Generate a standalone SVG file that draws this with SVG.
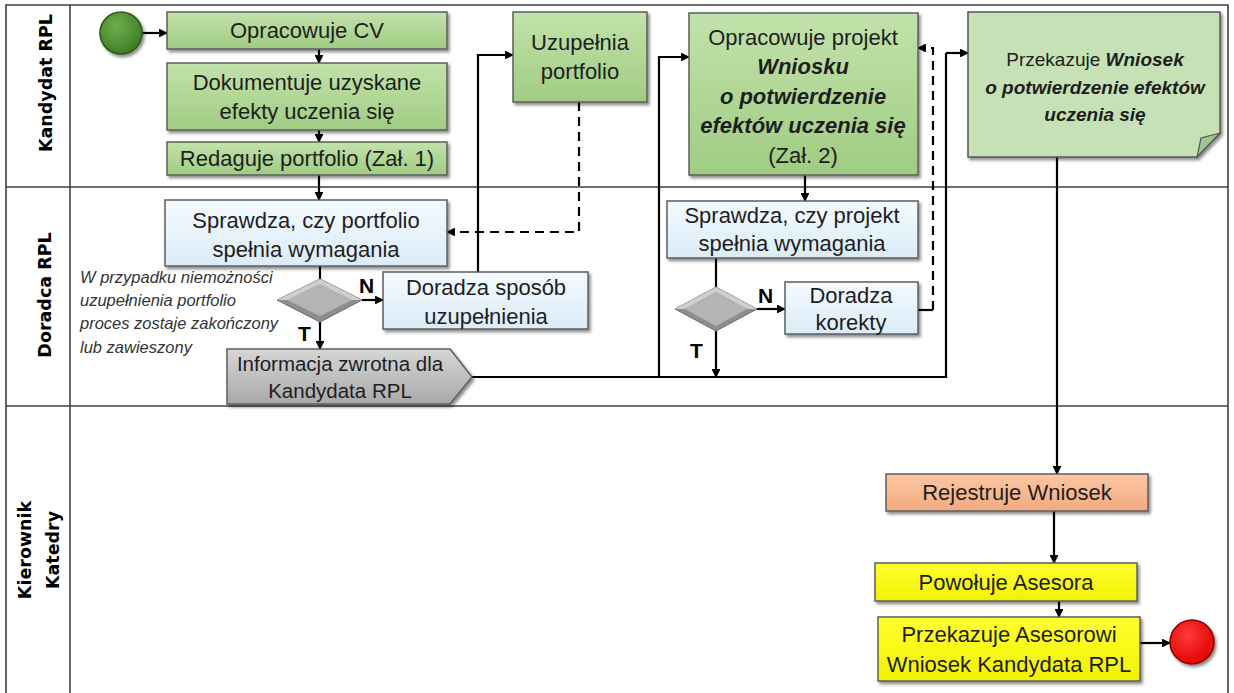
<svg xmlns="http://www.w3.org/2000/svg" width="1234" height="693" viewBox="0 0 1234 693">
<style>
  .lane { fill: none; stroke: #404040; stroke-width: 1.6; }
  .lbl { font-family: "DejaVu Sans", sans-serif; font-weight: bold; font-size: 17.5px; fill: #000; text-anchor: middle; }
  .t { font-family: "Liberation Sans", Arial, sans-serif; font-size: 22px; fill: #1e1e1e; text-anchor: middle; }
  .bi { font-weight: bold; font-style: italic; }
  .note { font-family: "Liberation Sans", Arial, sans-serif; font-size: 16.5px; font-style: italic; fill: #333; }
  .yn { font-family: "Liberation Sans", Arial, sans-serif; font-size: 21px; font-weight: bold; fill: #000; }
  .box { stroke: #5e5e5e; stroke-width: 1.5; filter: url(#sh); }
  .c { fill: none; stroke: #000; stroke-width: 2.2; }
  .ca { fill: none; stroke: #000; stroke-width: 2.2; marker-end: url(#ah); }
  .d { fill: none; stroke: #000; stroke-width: 2.2; stroke-dasharray: 9 6; }
  .da { fill: none; stroke: #000; stroke-width: 2.2; stroke-dasharray: 9 6; marker-end: url(#ah); }
</style>
<defs>
  <filter id="sh" x="-10%" y="-10%" width="130%" height="140%">
    <feDropShadow dx="2" dy="2.5" stdDeviation="1.5" flood-color="#000" flood-opacity="0.45"/>
  </filter>
  <linearGradient id="gGreen" x1="0" y1="0" x2="0" y2="1">
    <stop offset="0" stop-color="#c2e2ab"/>
    <stop offset="1" stop-color="#a0cc82"/>
  </linearGradient>
  <linearGradient id="gBlue" x1="0" y1="0" x2="0" y2="1">
    <stop offset="0" stop-color="#f4faff"/>
    <stop offset="1" stop-color="#dbecf8"/>
  </linearGradient>
  <linearGradient id="gGray" x1="0" y1="0" x2="0" y2="1">
    <stop offset="0" stop-color="#d6d6d6"/>
    <stop offset="1" stop-color="#a9a9a9"/>
  </linearGradient>
  <linearGradient id="gOrange" x1="0" y1="0" x2="0" y2="1">
    <stop offset="0" stop-color="#fcc8a4"/>
    <stop offset="1" stop-color="#f2aa7e"/>
  </linearGradient>
  <linearGradient id="gYellow" x1="0" y1="0" x2="0" y2="1">
    <stop offset="0" stop-color="#ffff30"/>
    <stop offset="1" stop-color="#f2f200"/>
  </linearGradient>
  <radialGradient id="gStart" cx="0.4" cy="0.35" r="0.7">
    <stop offset="0" stop-color="#6fae4c"/>
    <stop offset="1" stop-color="#3d7a25"/>
  </radialGradient>
  <radialGradient id="gEnd" cx="0.4" cy="0.35" r="0.7">
    <stop offset="0" stop-color="#ff3a3a"/>
    <stop offset="1" stop-color="#e00000"/>
  </radialGradient>
  <marker id="ah" viewBox="0 0 10 10" refX="9" refY="5" markerWidth="4" markerHeight="4" orient="auto" markerUnits="strokeWidth">
    <path d="M0,0 L10,5 L0,10 Z" fill="#000"/>
  </marker>
</defs>

<g id="lanes">
  <path class="lane" d="M6,693 V5 H1228 V693"/>
  <line class="lane" x1="70" y1="5" x2="70" y2="693"/>
  <line class="lane" x1="6" y1="187" x2="1228" y2="187"/>
  <line class="lane" x1="6" y1="406" x2="1228" y2="406"/>
  <text class="lbl" transform="translate(46,83) rotate(-90)" y="6">Kandydat RPL</text>
  <text class="lbl" transform="translate(45,295) rotate(-90)" y="6">Doradca RPL</text>
  <text class="lbl" transform="translate(25,550) rotate(-90)" y="6">Kierownik</text>
  <text class="lbl" transform="translate(53,550) rotate(-90)" y="6">Katedry</text>
</g>

<g id="connectors">
  <line class="ca" x1="142" y1="33" x2="167" y2="33"/>
  <line class="ca" x1="319" y1="49" x2="319" y2="63"/>
  <line class="ca" x1="319" y1="130" x2="319" y2="142"/>
  <line class="ca" x1="319" y1="175" x2="319" y2="200"/>
  <line class="c" x1="320" y1="266" x2="320" y2="279"/>
  <line class="ca" x1="362" y1="300" x2="383" y2="300"/>
  <line class="ca" x1="320" y1="322" x2="320" y2="349"/>
  <path class="ca" d="M478,272 V55 H513"/>
  <path class="da" d="M579,102 V232 H447"/>
  <path class="c" d="M472,377 H946 V53"/>
  <path class="ca" d="M659,377 V57 H689"/>
  <path class="ca" d="M946,53 H968"/>
  <line class="ca" x1="805" y1="175" x2="805" y2="201"/>
  <line class="c" x1="716" y1="258" x2="716" y2="287"/>
  <line class="ca" x1="757" y1="309" x2="785" y2="309"/>
  <line class="ca" x1="716" y1="331" x2="716" y2="377"/>
  <path class="c" d="M918,310 H933"/>
  <path class="da" d="M933,310 V48 H918"/>
  <line class="ca" x1="1057" y1="157" x2="1057" y2="474"/>
  <line class="ca" x1="1054" y1="511" x2="1054" y2="563"/>
  <line class="ca" x1="1059" y1="601" x2="1059" y2="617"/>
  <line class="ca" x1="1140" y1="643" x2="1170" y2="643"/>
  <text class="yn" x="359" y="293">N</text>
  <text class="yn" x="298" y="341">T</text>
  <text class="yn" x="758" y="303">N</text>
  <text class="yn" x="690" y="358">T</text>
</g>

<g id="start">
  <circle cx="121" cy="33" r="21" fill="url(#gStart)" stroke="#2b5a17" stroke-width="1.5" filter="url(#sh)"/>
</g>

<g id="n-cv">
  <rect class="box" x="167" y="12" width="280" height="37" fill="url(#gGreen)"/>
  <text class="t" x="307" y="38">Opracowuje CV</text>
</g>

<g id="n-dok">
  <rect class="box" x="167" y="63" width="280" height="67" fill="url(#gGreen)"/>
  <text class="t" x="307" y="90">Dokumentuje  uzyskane</text>
  <text class="t" x="307" y="119">efekty uczenia się</text>
</g>

<g id="n-red">
  <rect class="box" x="167" y="142" width="280" height="33" fill="url(#gGreen)"/>
  <text class="t" x="307" y="166">Redaguje portfolio (Zał. 1)</text>
</g>

<g id="n-uzu">
  <rect class="box" x="513" y="12" width="134" height="90" fill="url(#gGreen)"/>
  <text class="t" x="580" y="50">Uzupełnia</text>
  <text class="t" x="580" y="79">portfolio</text>
</g>

<g id="n-proj">
  <rect class="box" x="689" y="13" width="229" height="162" fill="url(#gGreen)"/>
  <text class="t" x="803" y="45">Opracowuje projekt</text>
  <text class="t bi" x="803" y="74">Wniosku</text>
  <text class="t bi" x="803" y="104">o potwierdzenie</text>
  <text class="t bi" x="803" y="133">efektów uczenia się</text>
  <text class="t" x="803" y="163">(Zał. 2)</text>
</g>

<g id="n-przek">
  <path d="M968,12 H1220 V133 L1197,157 H968 Z" fill="#c6e1b6" stroke="#555" stroke-width="1.5" filter="url(#sh)"/>
  <path d="M1220,133 L1197,157 L1201,138 Z" fill="#9fc38c" stroke="#555" stroke-width="1.2"/>
  <text class="t" x="1095" y="66" style="font-size:19px">Przekazuje <tspan class="bi">Wniosek</tspan></text>
  <text class="t bi" x="1095" y="94" style="font-size:19px">o potwierdzenie  efektów</text>
  <text class="t bi" x="1095" y="121" style="font-size:19px">uczenia się</text>
</g>

<g id="n-spr1">
  <rect class="box" x="165" y="200" width="282" height="66" fill="url(#gBlue)"/>
  <text class="t" x="306" y="228">Sprawdza, czy portfolio</text>
  <text class="t" x="306" y="257">spełnia wymagania</text>
</g>

<g id="n-dec1">
  <polygon points="277,300 320,279 362,300 320,322" fill="#8e8e8e" stroke="#6a6a6a" stroke-width="1"/>
  <polygon points="287,300 320,284 352,300 320,316" fill="#b4b4b4"/>
  <polygon points="277,300 320,279 362,300 352,300 320,284 287,300" fill="#cfcfcf"/>
</g>

<g id="n-dor1">
  <rect class="box" x="383" y="272" width="205" height="57" fill="url(#gBlue)"/>
  <text class="t" x="486" y="295">Doradza sposób</text>
  <text class="t" x="486" y="324">uzupełnienia</text>
</g>

<g id="n-note">
  <text class="note" x="80" y="283">W przypadku  niemożności</text>
  <text class="note" x="80" y="306">uzupełnienia  portfolio</text>
  <text class="note" x="80" y="329">proces zostaje zakończony</text>
  <text class="note" x="80" y="353">lub zawieszony</text>
</g>

<g id="n-info">
  <path class="box" d="M227,349 H450 L472,377 L450,404 H227 Z" fill="url(#gGray)"/>
  <text class="t" x="340" y="371" style="font-size:20.5px">Informacja zwrotna dla</text>
  <text class="t" x="340" y="398" style="font-size:20.5px">Kandydata RPL</text>
</g>

<g id="n-spr2">
  <rect class="box" x="667" y="201" width="251" height="57" fill="url(#gBlue)"/>
  <text class="t" x="792" y="223">Sprawdza, czy projekt</text>
  <text class="t" x="792" y="251">spełnia wymagania</text>
</g>

<g id="n-dec2">
  <polygon points="675,309 716,287 757,309 716,331" fill="#8e8e8e" stroke="#6a6a6a" stroke-width="1"/>
  <polygon points="685,309 716,292 747,309 716,326" fill="#b4b4b4"/>
  <polygon points="675,309 716,287 757,309 747,309 716,292 685,309" fill="#cfcfcf"/>
</g>

<g id="n-kor">
  <rect class="box" x="785" y="282" width="133" height="52" fill="url(#gBlue)"/>
  <text class="t" x="851" y="303">Doradza</text>
  <text class="t" x="851" y="330">korekty</text>
</g>

<g id="n-rej">
  <rect class="box" x="886" y="474" width="262" height="37" fill="url(#gOrange)"/>
  <text class="t" x="1017" y="500">Rejestruje Wniosek</text>
</g>

<g id="n-pow">
  <rect class="box" x="875" y="563" width="262" height="38" fill="url(#gYellow)"/>
  <text class="t" x="1006" y="590">Powołuje Asesora</text>
</g>

<g id="n-przas">
  <rect class="box" x="878" y="617" width="262" height="64" fill="url(#gYellow)"/>
  <text class="t" x="1009" y="642">Przekazuje Asesorowi</text>
  <text class="t" x="1009" y="672">Wniosek Kandydata RPL</text>
</g>

<g id="end">
  <circle cx="1192" cy="642" r="22" fill="url(#gEnd)" stroke="#8a0000" stroke-width="1.5" filter="url(#sh)"/>
</g>
</svg>
